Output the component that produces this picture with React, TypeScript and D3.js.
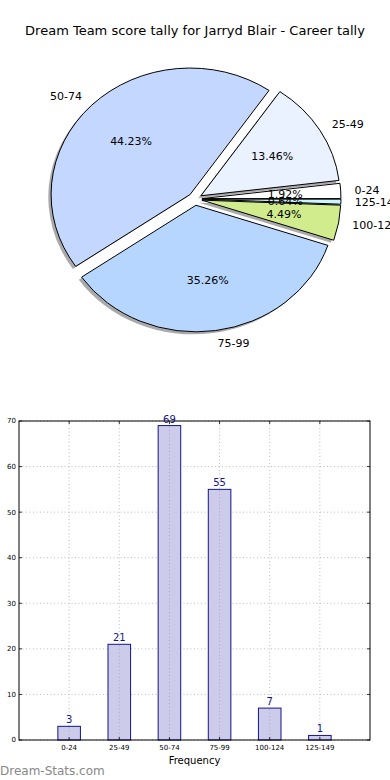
import React, { useRef, useEffect } from "react";
import * as d3 from "d3";

const categories = ["0-24", "25-49", "50-74", "75-99", "100-124", "125-149"];
const counts = [3, 21, 69, 55, 7, 1];
const sliceColors = ["#ffffff", "#eaf1ff", "#c4d8ff", "#b6d6ff", "#d0ec8c", "#ccf5ff"];
const yTicks = [0, 10, 20, 30, 40, 50, 60, 70];
const title = "Dream Team score tally for Jarryd Blair - Career tally";

const W = 390;
const H = 780;
const FONT = "DejaVu Sans, sans-serif";

const App: React.FC = () => {
  const ref = useRef<SVGSVGElement>(null);

  useEffect(() => {
    const svg = d3.select(ref.current);
    svg.selectAll("*").remove();
    svg.attr("width", W).attr("height", H);

    svg
      .append("text")
      .attr("x", W / 2)
      .attr("y", 35)
      .attr("text-anchor", "middle")
      .attr("font-family", FONT)
      .attr("font-size", 13)
      .text(title);

    // ---- pie (matplotlib style, elliptical, exploded, shadowed)
    const cx = 195;
    const cy = 199;
    const rx = 139;
    const ry = 126.5;
    const explode = 0.05;
    const total = d3.sum(counts);

    const pie = d3
      .pie<number>()
      .sort(null)
      .startAngle(Math.PI / 2)
      .endAngle(Math.PI / 2 - 2 * Math.PI);
    const arcs = pie(counts);
    const arc = d3.arc<d3.PieArcDatum<number>>().innerRadius(0).outerRadius(1);

    const pieG = svg.append("g").attr("transform", `translate(${cx},${cy}) scale(${rx},${ry})`);

    const offset = (d: d3.PieArcDatum<number>) => {
      const a = (d.startAngle + d.endAngle) / 2;
      return [Math.sin(a) * explode, -Math.cos(a) * explode];
    };

    // shadows
    pieG
      .selectAll(".shadow")
      .data(arcs)
      .enter()
      .append("path")
      .attr("class", "shadow")
      .attr("transform", (d) => {
        const [ox, oy] = offset(d);
        return `translate(${ox - 0.02},${oy + 0.02})`;
      })
      .attr("d", arc)
      .attr("fill", "#555")
      .attr("fill-opacity", 0.5);

    pieG
      .selectAll(".slice")
      .data(arcs)
      .enter()
      .append("path")
      .attr("class", "slice")
      .attr("transform", (d) => {
        const [ox, oy] = offset(d);
        return `translate(${ox},${oy})`;
      })
      .attr("d", arc)
      .attr("fill", (d, i) => sliceColors[i])
      .attr("stroke", "#000")
      .attr("stroke-width", 1)
      .attr("vector-effect", "non-scaling-stroke");

    arcs.forEach((d, i) => {
      const a = (d.startAngle + d.endAngle) / 2;
      const [ox, oy] = offset(d);
      const sx = Math.sin(a);
      const sy = -Math.cos(a);
      const lx = cx + (ox + 1.1 * sx) * rx;
      const ly = cy + (oy + 1.1 * sy) * ry;
      svg
        .append("text")
        .attr("x", lx)
        .attr("y", ly)
        .attr("dy", "0.35em")
        .attr("text-anchor", sx < 0 ? "end" : "start")
        .attr("font-family", FONT)
        .attr("font-size", 11)
        .text(categories[i]);
      const px = cx + (ox + 0.6 * sx) * rx;
      const py = cy + (oy + 0.6 * sy) * ry;
      svg
        .append("text")
        .attr("x", px)
        .attr("y", py)
        .attr("dy", "0.35em")
        .attr("text-anchor", "middle")
        .attr("font-family", FONT)
        .attr("font-size", 11)
        .text(((counts[i] / total) * 100).toFixed(2) + "%");
    });

    // ---- bar chart
    const left = 19;
    const right = 370;
    const top = 421;
    const bottom = 740;
    const x = d3.scaleLinear().domain([-1, 6]).range([left, right]);
    const y = d3.scaleLinear().domain([0, 70]).range([bottom, top]);
    const barW = 0.45;

    const grid = svg.append("g").attr("stroke", "#bdbdbd").attr("stroke-dasharray", "1,2.5");
    yTicks.forEach((t) => {
      grid.append("line").attr("x1", left).attr("x2", right).attr("y1", y(t)).attr("y2", y(t));
    });
    categories.forEach((c, i) => {
      grid.append("line").attr("x1", x(i)).attr("x2", x(i)).attr("y1", top).attr("y2", bottom);
    });

    svg
      .selectAll(".bar")
      .data(counts)
      .enter()
      .append("rect")
      .attr("class", "bar")
      .attr("x", (d, i) => x(i - barW / 2))
      .attr("y", (d) => y(d))
      .attr("width", x(barW) - x(0))
      .attr("height", (d) => y(0) - y(d))
      .attr("fill", "#ccccea")
      .attr("stroke", "#14148c")
      .attr("stroke-width", 1);

    // grid shows through bars in the original
    const grid2 = svg.append("g").attr("stroke", "#a8a8c4").attr("stroke-dasharray", "1,2.5");
    counts.forEach((v, i) => {
      grid2.append("line").attr("x1", x(i)).attr("x2", x(i)).attr("y1", y(v) + 1).attr("y2", bottom);
    });

    svg
      .selectAll(".val")
      .data(counts)
      .enter()
      .append("text")
      .attr("class", "val")
      .attr("x", (d, i) => x(i))
      .attr("y", (d) => y(d) - 3)
      .attr("text-anchor", "middle")
      .attr("font-family", FONT)
      .attr("font-size", 10)
      .attr("fill", "#14148c")
      .text((d) => d);

    // ticks
    const ticksG = svg.append("g").attr("stroke", "#000").attr("stroke-width", 0.8);
    yTicks.forEach((t) => {
      ticksG.append("line").attr("x1", left).attr("x2", left + 3).attr("y1", y(t)).attr("y2", y(t));
      ticksG.append("line").attr("x1", right - 3).attr("x2", right).attr("y1", y(t)).attr("y2", y(t));
      svg
        .append("text")
        .attr("x", left - 3)
        .attr("y", y(t))
        .attr("dy", "0.35em")
        .attr("text-anchor", "end")
        .attr("font-family", FONT)
        .attr("font-size", 7)
        .text(t);
    });
    categories.forEach((c, i) => {
      ticksG.append("line").attr("x1", x(i)).attr("x2", x(i)).attr("y1", bottom).attr("y2", bottom - 3);
      ticksG.append("line").attr("x1", x(i)).attr("x2", x(i)).attr("y1", top).attr("y2", top + 3);
      svg
        .append("text")
        .attr("x", x(i))
        .attr("y", bottom + 10)
        .attr("text-anchor", "middle")
        .attr("font-family", FONT)
        .attr("font-size", 7)
        .text(c);
    });

    svg
      .append("rect")
      .attr("x", left)
      .attr("y", top)
      .attr("width", right - left)
      .attr("height", bottom - top)
      .attr("fill", "none")
      .attr("stroke", "#000")
      .attr("stroke-width", 1);

    svg
      .append("text")
      .attr("x", (left + right) / 2)
      .attr("y", 764)
      .attr("text-anchor", "middle")
      .attr("font-family", FONT)
      .attr("font-size", 10)
      .text("Frequency");

    svg
      .append("text")
      .attr("x", 0)
      .attr("y", 775)
      .attr("font-family", FONT)
      .attr("font-size", 12)
      .attr("fill", "#888")
      .text("Dream-Stats.com");
  }, []);

  return <svg ref={ref} style={{ position: "absolute", left: 0, top: 0 }}></svg>;
};

export default App;
